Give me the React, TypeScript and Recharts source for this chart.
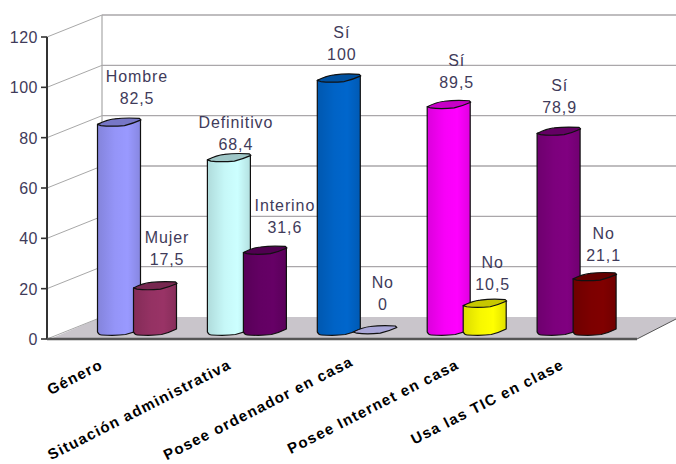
import { BarChart, Bar, XAxis, YAxis, LabelList, CartesianGrid } from "recharts";

const categories = [
  "Género",
  "Situación administrativa",
  "Posee ordenador en casa",
  "Posee Internet en casa",
  "Usa las TIC en clase",
];
const mainNames = ["Hombre", "Definitivo", "Sí", "Sí", "Sí"];
const mainValues = [82.5, 68.4, 100, 89.5, 78.9];
const sideNames = ["Mujer", "Interino", "No", "No", "No"];
const sideValues = [17.5, 31.6, 0, 10.5, 21.1];
const yTicks = [0, 20, 40, 60, 80, 100, 120];

const mainColors = ["#9999ff", "#ccffff", "#0066cc", "#ff00ff", "#800080"];
const sideColors = ["#993366", "#660066", "#a9a6d8", "#ffff00", "#800000"];

const data = categories.map((name, i) => ({
  name,
  main: mainValues[i],
  side: sideValues[i],
}));

// hand placed nudges, the original labels do not sit at a constant distance
const mainLabelDx = [18, 7, 3, 8, 1];
const mainLabelDy = [0, 10, 0, 1, 0];
const sideLabelDx = [12, 20, 8, 8, 9];
const sideLabelDy = [-3, 1, -2, 4, 2];
const xTickDx = [-33.5, -15, -3, -7, -12];
const xTickDy = [0, 0, -3, 0, 0];

const BAR_LIFT = 7; // bars stand in the middle of the floor depth
const WALL_DX = 55;
const WALL_DY = 22;
const TEXT = "#3f3b5a";
const FONT = "'Liberation Sans', Arial, sans-serif";

const shade = (hex: string) => {
  const n = parseInt(hex.slice(1), 16);
  const f = (v: number) => Math.round(v * 0.78);
  return `rgb(${f(n >> 16)},${f((n >> 8) & 255)},${f(n & 255)})`;
};

const cylinder = (colors: string[]) => (props: any) => {
  const { x, y, width: w, height: h, index } = props;
  const top = y - BAR_LIFT;
  const k = w / 43;
  const px = (v: number) => x + v * k;
  const cap =
    `M${x},${top} C${px(6)},${top - 3} ${px(12)},${top - 5} ${px(17)},${top - 5.5} ` +
    `C${px(25)},${top - 6.5} ${px(35)},${top - 6.5} ${px(42)},${top - 6} L${px(43.5)},${top - 4.5} ` +
    `C${px(38)},${top - 2} ${px(32)},${top} ${px(27)},${top + 1.2} ` +
    `C${px(18)},${top + 2} ${px(10)},${top + 2} ${px(3.5)},${top + 1.2} Z`;
  const yb = top + h;
  const body =
    `M${x},${top} L${x},${yb} C${px(1)},${yb + 2} ${px(2)},${yb + 3} ${px(4)},${yb + 3} ` +
    `C${px(12)},${yb + 3.4} ${px(22)},${yb + 3.4} ${px(28)},${yb + 2.5} ` +
    `C${px(34)},${yb + 1} ${px(39)},${yb - 1} ${px(43)},${yb - 3} L${px(43)},${top - 4.5} Z`;
  const color = colors[index];
  return (
    <g stroke="#111" strokeWidth={1.2} strokeLinejoin="round">
      {h > 0 && <path d={body} fill={color} />}
      {h > 0 && <path d={body} fill="url(#cylShade)" stroke="none" />}
      <path d={cap} fill={h > 0 ? shade(color) : color} />
    </g>
  );
};

const barLabel = (names: string[], dx: number[], dy: number[]) => (props: any) => {
  const { x, y, width, value, index } = props;
  const cx = x + width / 2 + dx[index];
  const base = y - BAR_LIFT - 26 + dy[index];
  const style = { fontSize: 16, letterSpacing: 0.9, fontFamily: FONT };
  return (
    <g fill={TEXT} textAnchor="middle" style={style}>
      <text x={cx} y={base - 16}>{names[index]}</text>
      <text x={cx} y={base + 6}>{String(value).replace(".", ",")}</text>
    </g>
  );
};

// each grid line also carries its part of the 3D box: side wall and back wall
const wallLine = (props: any) => {
  const { x1: ox, y1: y, key } = props;
  const isFloor = y > 330;
  const isTop = y < 40;
  return (
    <g key={key ?? y}>
      {isFloor && (
        <path
          d={`M${ox + 3},${y} L${ox + WALL_DX},${y - WALL_DY} L676,${y - WALL_DY} L676,${y - 20} L637,${y} Z`}
          fill="#c9c5cb"
        />
      )}
      {isFloor && <path d={`M637,${y} L676,${y - 20}`} stroke="#555" strokeWidth={1} fill="none" />}
      {isTop && (
        <line x1={ox + WALL_DX} y1={y - WALL_DY} x2={ox + WALL_DX} y2={y - WALL_DY + 302} stroke="#a8a8a8" strokeWidth={1.2} />
      )}
      <line x1={ox} y1={y} x2={ox + WALL_DX} y2={y - WALL_DY} stroke="#a8a8a8" strokeWidth={1} />
      {!isFloor && <line x1={ox + WALL_DX} y1={y - WALL_DY} x2={676} y2={y - WALL_DY} stroke="#aaa7aa" strokeWidth={1.4} />}
    </g>
  );
};

const YTick = (props: any) => {
  const { x, y, payload } = props;
  return (
    <g>
      <line x1={x + 2} y1={y} x2={x + 8} y2={y} stroke="#333" strokeWidth={1.6} />
      <text x={x - 1} y={y + 6} textAnchor="end" fill={TEXT} style={{ fontSize: 16, letterSpacing: 0.5, fontFamily: FONT }}>
        {payload.value}
      </text>
    </g>
  );
};

const XTick = (props: any) => {
  const { x, y, payload, index } = props;
  const ax = x + xTickDx[index];
  const ay = y + 21 + xTickDy[index];
  return (
    <text
      x={ax}
      y={ay}
      textAnchor="end"
      transform={`rotate(-27 ${ax} ${ay})`}
      fill="#000"
      style={{ fontSize: 15, fontWeight: 700, letterSpacing: 1.25, fontFamily: FONT }}
    >
      {payload.value}
    </text>
  );
};

export default function App() {
  return (
    <div style={{ position: "absolute", left: 0, top: 0, width: 676, height: 464, background: "#fff" }}>
      <BarChart
        width={676}
        height={464}
        data={data}
        margin={{ top: 37, right: 39, left: 0, bottom: 0 }}
        barSize={43}
        barGap={-7}
      >
        <defs>
          <linearGradient id="cylShade" x1="0" y1="0" x2="1" y2="0">
            <stop offset="0" stopColor="#000" stopOpacity={0.14} />
            <stop offset="0.4" stopColor="#000" stopOpacity={0.03} />
            <stop offset="0.7" stopColor="#000" stopOpacity={0} />
            <stop offset="1" stopColor="#000" stopOpacity={0.12} />
          </linearGradient>
        </defs>
        <CartesianGrid vertical={false} horizontal={wallLine} />
        <YAxis
          width={47}
          domain={[0, 120]}
          ticks={yTicks}
          interval={0}
          tick={YTick}
          tickLine={false}
          axisLine={{ stroke: "#333", strokeWidth: 2 }}
        />
        <XAxis
          dataKey="name"
          height={125}
          padding={{ left: 35.5, right: 5 }}
          interval={0}
          tick={XTick}
          tickLine={false}
          axisLine={{ stroke: "#555", strokeWidth: 2.4 }}
        />
        <Bar dataKey="main" isAnimationActive={false} shape={cylinder(mainColors)}>
          <LabelList dataKey="main" content={barLabel(mainNames, mainLabelDx, mainLabelDy)} />
        </Bar>
        <Bar dataKey="side" isAnimationActive={false} shape={cylinder(sideColors)}>
          <LabelList dataKey="side" content={barLabel(sideNames, sideLabelDx, sideLabelDy)} />
        </Bar>
      </BarChart>
    </div>
  );
}
